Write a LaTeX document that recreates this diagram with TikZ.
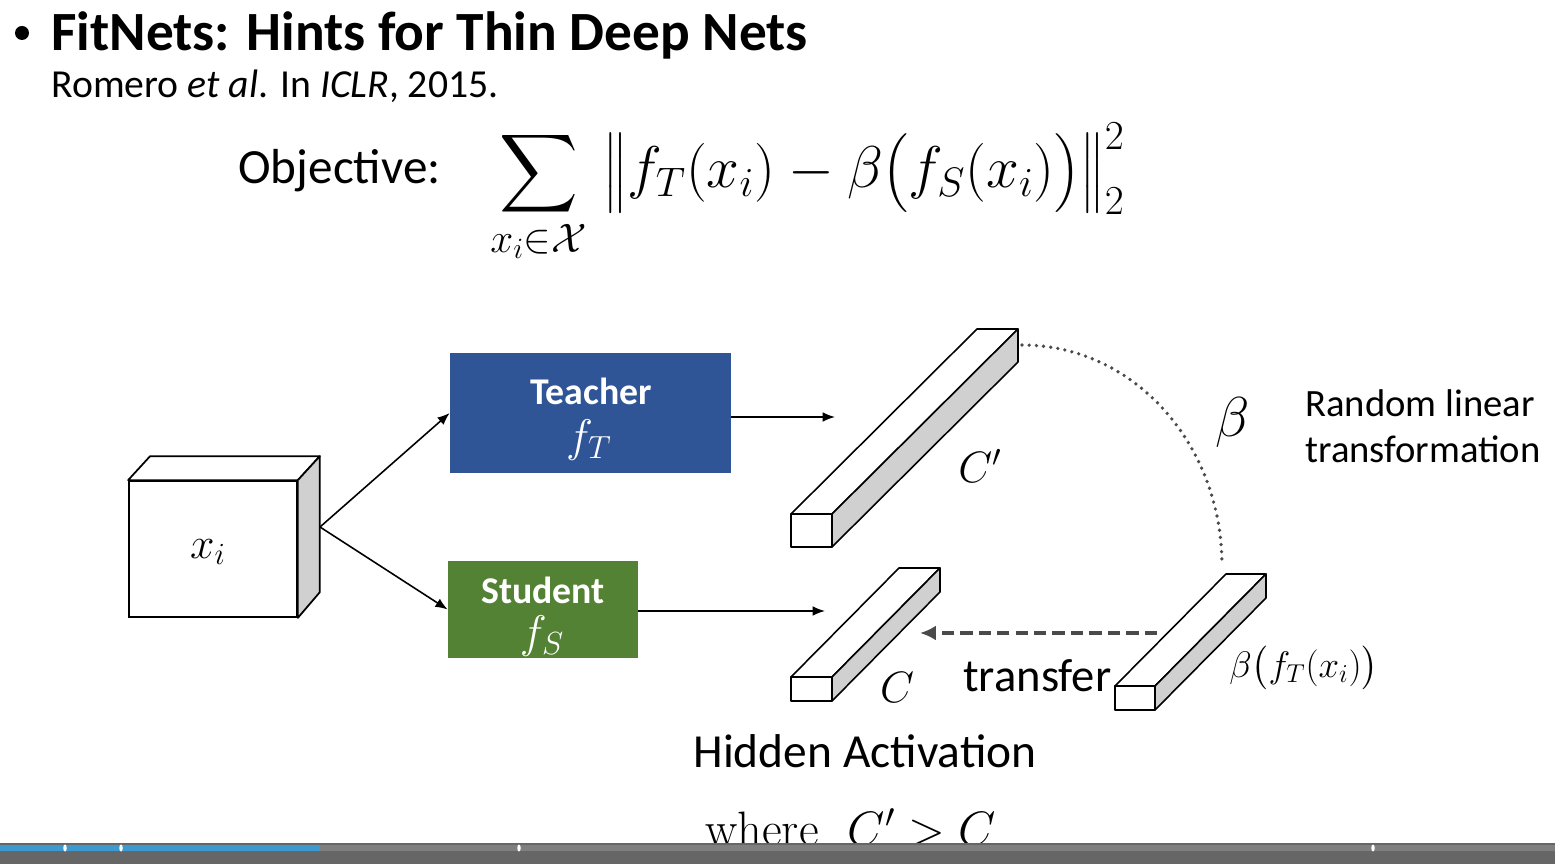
\RequirePackage{fix-cm}
\documentclass[tikz,border=0pt]{standalone}
\usepackage{amsmath}
\usepackage{fontspec}
\setmainfont{Carlito}
\usetikzlibrary{arrows.meta,calc}
\definecolor{tblue}{HTML}{2F5597}
\definecolor{sgreen}{HTML}{548235}
\definecolor{sidegray}{HTML}{D0D0D0}
\definecolor{dashgray}{HTML}{4A4A4A}
\definecolor{bardark}{HTML}{666666}
\definecolor{barlight}{HTML}{7F7F7F}
\definecolor{barblue}{HTML}{3D9AD1}
\newcommand{\prismbar}[6]{%
  \filldraw[fill=white, bar] (#1,#2) -- ({#1+#5},{#2-#6}) -- ({#1+#3+#5},{#2-#6}) -- ({#1+#3},#2) -- cycle;
  \filldraw[fill=sidegray, bar] ({#1+#3},#2) -- ({#1+#3+#5},{#2-#6}) -- ({#1+#3+#5},{#2+#4-#6}) -- ({#1+#3},{#2+#4}) -- cycle;
  \filldraw[fill=white, bar] (#1,#2) rectangle ({#1+#3},{#2+#4});
}
\begin{document}
\begin{tikzpicture}[x=0.02cm,y=-0.02cm,
  edge/.style={line width=0.9pt,-{Latex[length=7pt,width=5.5pt]}},
  bar/.style={line width=0.9pt, line join=round},
  txt/.style={inner sep=0pt},
  netbox/.style={inner sep=0pt},
  boxtxt/.style={inner sep=0pt, text=white, font=\fontsize{21.5}{26}\selectfont\bfseries},
  boxmath/.style={inner sep=0pt, text=white, font=\fontsize{26}{30}\selectfont},
  mathlbl/.style={inner sep=0pt, font=\fontsize{25}{30}\selectfont}]
\useasboundingbox (0,0) rectangle (1555,864);
\fill[white] (0,0) rectangle (1555,864);

% title
\fill (22,33) circle (0.14cm);
\node[txt, anchor=base west, font=\fontsize{31.5}{36}\selectfont\bfseries] (title) at (51,51) {FitNets: Hints for Thin Deep Nets};
\node[txt, anchor=base west, font=\fontsize{22.6}{26}\selectfont] (ref) at (51,98) {Romero \textit{et al}. In \textit{ICLR}, 2015.};
\node[txt, anchor=base west, font=\fontsize{28}{32}\selectfont] (obj) at (238,184) {Objective:};
\node[txt, anchor=base west, font=\fontsize{33.5}{38}\selectfont] (formula) at (490,188)
  {$\displaystyle \mathop{\vcenter{\hbox{\scalebox{1.25}{$\displaystyle\sum$}}}}\limits_{x_i\in\mathcal{X}}\; \bigl\| f_T(x_i)-\beta\bigl(f_S(x_i)\bigr)\bigr\|_2^2$};

% input cube
\node[draw, line width=1pt, fill=white, minimum width=3.36cm, minimum height=2.72cm, inner sep=0pt] (cube) at (213,549) {};
\filldraw[fill=white, line width=1pt, line join=round] (cube.north west) -- ++(22,-24) -- ($(cube.north east)+(22,-24)$) -- (cube.north east) -- cycle;
\filldraw[fill=sidegray, line width=1pt, line join=round] (cube.north east) -- ++(22,-24) -- ++(0,136) -- (cube.south east) -- cycle;
\node[mathlbl, font=\fontsize{25}{28}\selectfont] (xi) at (208,552) {$x_i$};
\coordinate (cubeR) at (320,527);

% teacher / student
\node[netbox, fill=tblue, minimum width=5.62cm, minimum height=2.4cm] (teacher) at (590.5,413) {};
\node[boxtxt] (tname) at (591,391) {Teacher};
\node[boxmath] (tfun) at (589,440) {$f_T$};
\node[netbox, fill=sgreen, minimum width=3.8cm, minimum height=1.94cm] (student) at (543,609.5) {};
\node[boxtxt] (sname) at (543,590) {Student};
\node[boxmath] (sfun) at (542,636) {$f_S$};

\draw[edge] (cubeR) -- (teacher.west);
\draw[edge] (cubeR) -- (student.west);

% feature bars
\prismbar{791}{514}{41}{33}{186}{185}
\prismbar{791}{677}{41}{24}{108}{109}
\prismbar{1115}{686}{40}{24}{111}{112}

\coordinate (tEnd) at (835,417);
\coordinate (sEnd) at (825,611);
\draw[edge] (teacher.east |- tEnd) -- (tEnd);
\draw[edge] (student.east |- sEnd) -- (sEnd);

% beta transformation arc
\coordinate (arcS) at (1022,345);
\coordinate (arcE) at (1222,566);
\draw[line width=2.1pt, dashgray, line cap=round, dash pattern=on 0pt off 4.1pt]
  (arcS) .. controls (1134,345) and (1222,444) .. (arcE);

% transfer arrow
\coordinate (trS) at (1157,633);
\coordinate (trE) at (920,633);
\draw[line width=2.2pt, dashgray, dash pattern=on 7pt off 3.5pt, -{Latex[length=9pt,width=8.5pt]}] (trS) -- (trE);

% labels
\node[mathlbl] (cp) at (980,466) {$C'$};
\node[mathlbl] (cl) at (897,687) {$C$};
\node[mathlbl, font=\fontsize{32}{36}\selectfont] (beta) at (1233,422) {$\beta$};
\node[txt, anchor=base west, font=\fontsize{22}{26}\selectfont] (rl1) at (1305,417) {Random linear};
\node[txt, anchor=base west, font=\fontsize{22}{26}\selectfont] (rl2) at (1305,463) {transformation};
\node[txt, anchor=base west, font=\fontsize{26.5}{30}\selectfont] (tr) at (963,691) {transfer};
\node[mathlbl, anchor=west, font=\fontsize{21}{26}\selectfont] (bft) at (1229,668) {$\beta\big(f_T(x_i)\big)$};
\node[txt, anchor=base, font=\fontsize{27}{30}\selectfont] (ha) at (865,767) {Hidden Activation};
\node[txt, anchor=base west, font=\fontsize{27.5}{30}\fontfamily{lmr}\selectfont] (where) at (705,845) {where\ \ $C'>C$};

% video progress bar
\fill[bardark] (0,843) rectangle (1555,864);
\fill[barlight] (0,845) rectangle (1555,851);
\fill[barblue] (0,845) rectangle (320,851);
\foreach \dx in {65,121,519,1373} \fill[white] (\dx,848) ellipse (0.035cm and 0.07cm);
\end{tikzpicture}
\end{document}
